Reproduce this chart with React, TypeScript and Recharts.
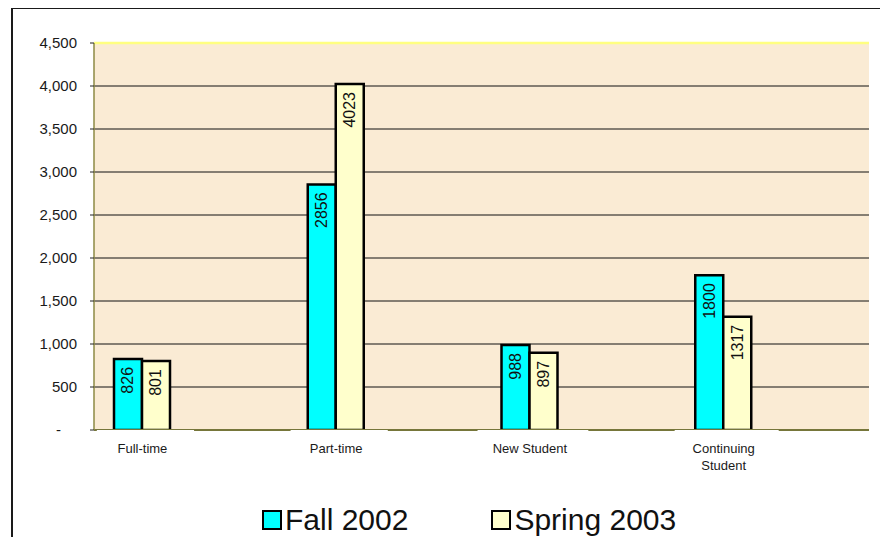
import {
  BarChart,
  Bar,
  XAxis,
  YAxis,
  CartesianGrid,
  Legend,
  LabelList,
  ReferenceLine,
} from "recharts";

const categories = ["Full-time", "Part-time", "New Student", "Continuing Student"];
const fall2002 = [826, 2856, 988, 1800];
const spring2003 = [801, 4023, 897, 1317];
const yTicks = [0, 500, 1000, 1500, 2000, 2500, 3000, 3500, 4000, 4500];

const FONT = "'Liberation Sans', Arial, sans-serif";
const CYAN = "#00FFFF";
const CREAM = "#FFFFCC";

// Excel layout: every category is followed by an empty slot
const rows: { key: string; label: string; fall: number | null; spring: number | null }[] = [];
categories.forEach((c, i) => {
  rows.push({ key: c, label: c, fall: fall2002[i], spring: spring2003[i] });
  rows.push({ key: "gap" + i, label: "", fall: null, spring: null });
});

const PLOT_W = 775;
const SLOT = PLOT_W / rows.length;

const BoundaryTick = (props: any) => {
  const { x, y, index } = props;
  const left = x - SLOT / 2;
  return (
    <g>
      <line x1={left} x2={left} y1={y} y2={y + 4} stroke="#111" strokeWidth={1.2} />
      {index === rows.length - 1 && (
        <line x1={x + SLOT / 2} x2={x + SLOT / 2} y1={y} y2={y + 4} stroke="#111" strokeWidth={1.2} />
      )}
    </g>
  );
};

const CategoryTick = (props: any) => {
  const { x, y, payload } = props;
  const row = rows[payload.index];
  if (!row || !row.label) return <g />;
  const lines = row.label.length > 12 ? row.label.split(" ") : [row.label];
  const longest = Math.max(...lines.map((l) => l.length));
  const w = longest * 6.8 + 36;
  return (
    <g>
      <rect x={x - w / 2 + 3} y={y - 2} width={w} height={45} fill="#fff" />
      {lines.map((l, i) => (
        <text
          key={i}
          x={x}
          y={y + 21 + i * 17}
          textAnchor="middle"
          fontSize={13}
          fontFamily={FONT}
          fill="#1a1a1a"
        >
          {l}
        </text>
      ))}
    </g>
  );
};

const ValueTick = (props: any) => {
  const { x, y, payload } = props;
  const v = payload.value as number;
  return (
    <text
      x={v === 0 ? x - 16 : x}
      y={y}
      dy={5}
      textAnchor="end"
      fontSize={15}
      fontFamily={FONT}
      fill="#1a1a1a"
    >
      {v === 0 ? "-" : v.toLocaleString("en-US")}
    </text>
  );
};

const BarValue = (props: any) => {
  const { x, y, width, value } = props;
  if (value == null) return null;
  const cx = x + width / 2;
  const ty = y + 8;
  return (
    <text
      x={cx}
      y={ty}
      transform={`rotate(-90 ${cx} ${ty})`}
      textAnchor="end"
      dominantBaseline="central"
      fontSize={16}
      fontFamily={FONT}
      fill="#111"
    >
      {value}
    </text>
  );
};

const LegendBox = (props: any) => {
  const { payload } = props;
  return (
    <div style={{ display: "flex", alignItems: "center", paddingLeft: 262 }}>
      {(payload || []).map((p: any, i: number) => (
        <div
          key={i}
          style={{ display: "flex", alignItems: "center", marginRight: i === 0 ? 83 : 0 }}
        >
          <span
            style={{
              display: "inline-block",
              width: 16,
              height: 16,
              border: "2px solid #000",
              background: p.color,
              marginRight: 3,
            }}
          />
          <span style={{ fontSize: 30, fontFamily: FONT, color: "#111", lineHeight: "30px" }}>
            {p.value}
          </span>
        </div>
      ))}
    </div>
  );
};

export default function App() {
  return (
    <div
      style={{
        position: "relative",
        width: 888,
        height: 545,
        margin: -8,
        overflow: "hidden",
        background: "#fff",
      }}
    >
      <div
        style={{
          position: "absolute",
          left: 11,
          top: 7,
          width: 2000,
          height: 2000,
          borderLeft: "2px solid #1a1a1a",
          borderTop: "2px solid #1a1a1a",
        }}
      />
      <div style={{ position: "absolute", left: 0, top: 0 }}>
        <BarChart
          width={888}
          height={545}
          data={rows}
          margin={{ top: 43, right: 19, bottom: 75, left: 0 }}
          barGap={0}
          barSize={28}
        >
          <CartesianGrid
            vertical={false}
            fill="#FAEBD4"
            fillOpacity={1}
            stroke="#111"
            strokeWidth={1}
          />
          <XAxis
            xAxisId="marks"
            dataKey="key"
            height={0}
            interval={0}
            axisLine={false}
            tickLine={false}
            tickSize={0}
            tick={<BoundaryTick />}
          />
          <XAxis
            dataKey="key"
            height={40}
            interval={0}
            tickSize={0}
            tickLine={false}
            axisLine={{ stroke: "#76763A", strokeWidth: 2 }}
            tick={<CategoryTick />}
          />
          <YAxis
            width={94}
            domain={[0, 4500]}
            ticks={yTicks}
            interval={0}
            tickSize={4}
            tickMargin={13}
            axisLine={{ stroke: "#8C8A45", strokeWidth: 1.5 }}
            tickLine={{ stroke: "#222" }}
            tick={<ValueTick />}
          />
          <YAxis
            yAxisId="right"
            orientation="right"
            width={0}
            tick={false}
            tickLine={false}
            axisLine={{ stroke: "#FFFF80", strokeWidth: 2.5 }}
          />
          <ReferenceLine y={4500} stroke="#FFFF80" strokeWidth={2.5} />
          <Bar
            dataKey="fall"
            name="Fall 2002"
            fill={CYAN}
            stroke="#000"
            strokeWidth={2.5}
            isAnimationActive={false}
          >
            <LabelList dataKey="fall" content={<BarValue />} />
          </Bar>
          <Bar
            dataKey="spring"
            name="Spring 2003"
            fill={CREAM}
            stroke="#000"
            strokeWidth={2.5}
            isAnimationActive={false}
          >
            <LabelList dataKey="spring" content={<BarValue />} />
          </Bar>
          <Legend
            layout="vertical"
            align="center"
            verticalAlign="middle"
            wrapperStyle={{ top: 505, left: 0, width: 888 }}
            content={<LegendBox />}
          />
        </BarChart>
      </div>
    </div>
  );
}
